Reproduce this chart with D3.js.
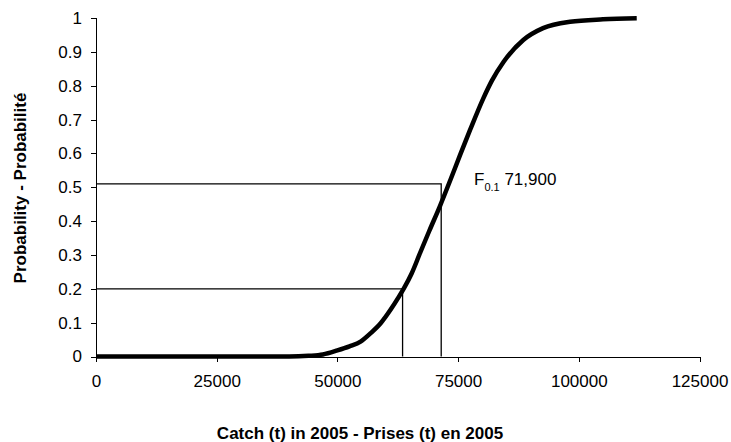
<!DOCTYPE html>
<html>
<head>
<meta charset="utf-8">
<script src="https://cdn.jsdelivr.net/npm/d3@7"></script>
<style>
  body { margin: 0; background: #fff; }
  text { font-family: "Liberation Sans", Arial, sans-serif; fill: #000; }
</style>
</head>
<body>
<div id="chart"></div>
<script>
// cumulative probability curve
const catchVals = [0, 40000, 44000, 47000, 50000, 52500, 54800, 56900, 59000, 61000, 62750, 63800,
  65400, 67100, 69000, 71200, 73500, 75400, 77500, 80200, 82000, 84400, 88500, 92600, 98200, 105000, 112000];
const probVals = [0, 0, 0.002, 0.006, 0.018, 0.03, 0.044, 0.069, 0.099, 0.138, 0.177, 0.202,
  0.246, 0.305, 0.37, 0.443, 0.525, 0.595, 0.67, 0.762, 0.815, 0.87, 0.935, 0.970, 0.989, 0.996, 0.999];

// reference drop lines
const refCatch = [63500, 71500];
const refProb = [0.2, 0.51];

const xTicks = [0, 25000, 50000, 75000, 100000, 125000];
const yTicks = [0, 0.1, 0.2, 0.3, 0.4, 0.5, 0.6, 0.7, 0.8, 0.9, 1];

const width = 731, height = 442;

const svg = d3.select("#chart").append("svg")
  .attr("width", width)
  .attr("height", height);

const x = d3.scaleLinear().domain([0, 125000]).range([96, 699.5]);
const y = d3.scaleLinear().domain([0, 1]).range([356.5, 18]);

// axes
const xAxis = svg.append("g")
  .attr("transform", `translate(0,${y(0)})`)
  .call(d3.axisBottom(x).tickValues(xTicks).tickSize(5).tickPadding(13).tickFormat(d3.format("d")));
const yAxis = svg.append("g")
  .attr("transform", `translate(${x(0)},0)`)
  .call(d3.axisLeft(y).tickValues(yTicks).tickSize(5).tickPadding(9).tickFormat(d => d === 0 || d === 1 ? d : d.toFixed(1)));

[xAxis, yAxis].forEach(a => {
  a.selectAll("path, line").attr("stroke", "#000").attr("shape-rendering", "crispEdges");
  a.selectAll("text").style("font-size", "17px").attr("font-family", "Liberation Sans, Arial, sans-serif");
});

// reference lines
refCatch.forEach((c, i) => {
  svg.append("path")
    .attr("d", `M${x(0)},${y(refProb[i])}H${x(c)}V${y(0)}`)
    .attr("fill", "none")
    .attr("stroke", "#000")
    .attr("stroke-width", 1.3);
});

// curve
const data = catchVals.map((c, i) => ({ c: c, p: probVals[i] }));
svg.append("path")
  .datum(data)
  .attr("fill", "none")
  .attr("stroke", "#000")
  .attr("stroke-width", 4.5)
  .attr("stroke-linejoin", "round")
  .attr("d", d3.line().x(d => x(d.c)).y(d => y(d.p)).curve(d3.curveMonotoneX));

// annotation
const ann = svg.append("text")
  .attr("x", 474)
  .attr("y", 185)
  .style("font-size", "17px");
ann.append("tspan").text("F");
ann.append("tspan").attr("dy", 6).style("font-size", "11px").text("0.1");
ann.append("tspan").attr("dy", -6).text(" 71,900");

// axis titles
svg.append("text")
  .attr("x", 360)
  .attr("y", 439)
  .attr("text-anchor", "middle")
  .style("font-size", "17px")
  .style("font-weight", "bold")
  .text("Catch (t) in 2005 - Prises (t) en 2005");

svg.append("text")
  .attr("transform", "translate(26,188) rotate(-90)")
  .attr("text-anchor", "middle")
  .style("font-size", "17px")
  .style("font-weight", "bold")
  .text("Probability - Probabilité");
</script>
</body>
</html>
